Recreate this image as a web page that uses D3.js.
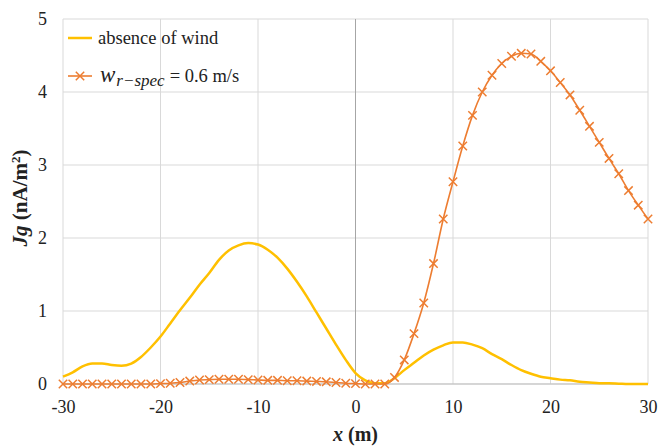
<!DOCTYPE html>
<html><head><meta charset="utf-8">
<script src="https://cdn.jsdelivr.net/npm/d3@7"></script>
<style>body{margin:0;background:#fff}svg{display:block}text{font-family:"Liberation Serif","Times New Roman",serif}</style>
</head><body>
<svg id="c" width="659" height="446"></svg>
<script>
const xs = d3.range(-30, 31); // positions in m
const noWind = [0.10,0.16,0.24,0.28,0.28,0.26,0.25,0.28,0.37,0.50,
  0.65,0.83,1.01,1.18,1.36,1.52,1.70,1.83,1.90,1.93,
  1.91,1.84,1.73,1.58,1.40,1.20,0.98,0.76,0.54,0.33,
  0.15,0.05,0.01,0.01,0.08,0.19,0.29,0.39,0.47,0.53,
  0.57,0.57,0.54,0.49,0.41,0.34,0.26,0.19,0.14,0.10,
  0.08,0.06,0.05,0.03,0.02,0.01,0.01,0.005,0,0,0];
const wind = [0,0,0,0,0,0,0,0,0,0,
  0.005,0.01,0.02,0.04,0.055,0.06,0.065,0.065,0.065,0.06,
  0.055,0.05,0.05,0.045,0.045,0.04,0.035,0.03,0.02,0.01,
  0.005,0,0,0,0.09,0.33,0.69,1.11,1.65,2.26,
  2.77,3.26,3.68,4.00,4.23,4.39,4.49,4.53,4.52,4.42,
  4.29,4.13,3.96,3.75,3.53,3.31,3.09,2.88,2.65,2.45,2.26];
const xTicks = [-30,-20,-10,0,10,20,30];
const yTicks = [0,1,2,3,4,5];
const seriesNames = ["absence of wind", "= 0.6 m/s"];

const svg = d3.select("#c");
const L=63, R=648, T=19, B=384;
const x = d3.scaleLinear().domain([-30,30]).range([L,R]);
const y = d3.scaleLinear().domain([0,5]).range([B,T]);

// grid
const g = svg.append("g");
g.selectAll(".vg").data(xTicks.filter(d=>d!==0)).join("line")
  .attr("x1",d=>x(d)).attr("x2",d=>x(d)).attr("y1",T).attr("y2",B)
  .attr("stroke","#d9d9d9").attr("stroke-width",1);
g.selectAll(".hg").data(yTicks).join("line")
  .attr("x1",L).attr("x2",R).attr("y1",d=>y(d)).attr("y2",d=>y(d))
  .attr("stroke","#d9d9d9").attr("stroke-width",1);
// zero axis
g.append("line").attr("x1",x(0)).attr("x2",x(0)).attr("y1",T).attr("y2",B)
  .attr("stroke","#a6a6a6").attr("stroke-width",1);
g.append("line").attr("x1",L).attr("x2",R).attr("y1",y(0)).attr("y2",y(0))
  .attr("stroke","#bfbfbf").attr("stroke-width",1);

const fmt = d => String(d);
const ax = svg.append("g").attr("transform",`translate(0,${B+11})`)
  .call(d3.axisBottom(x).tickValues(xTicks).tickSize(0).tickPadding(5).tickFormat(fmt));
ax.select(".domain").remove();
ax.selectAll("text").attr("font-size",18).attr("fill","#222").style("font-family","Liberation Serif");
const ay = svg.append("g").attr("transform",`translate(${L-16},0)`)
  .call(d3.axisLeft(y).tickValues(yTicks).tickSize(0).tickPadding(0).tickFormat(fmt));
ay.select(".domain").remove();
ay.selectAll("text").attr("font-size",18).attr("fill","#222").style("font-family","Liberation Serif");

// lines
const yl = d3.line().x((d,i)=>x(xs[i])).y(d=>y(d)).curve(d3.curveMonotoneX);
svg.append("path").datum(noWind).attr("d",yl).attr("fill","none")
  .attr("stroke","#ffc000").attr("stroke-width",2.5);
svg.append("path").datum(wind).attr("d",yl).attr("fill","none")
  .attr("stroke","#ed7d31").attr("stroke-width",1.6);
const m = 4.2;
const mk = svg.append("g").selectAll("g").data(wind).join("g")
  .attr("transform",(d,i)=>`translate(${x(xs[i])},${y(d)})`);
mk.append("path").attr("d",`M${-m},${-m}L${m},${m}M${-m},${m}L${m},${-m}`)
  .attr("stroke","#ed7d31").attr("stroke-width",1.5).attr("fill","none");

// legend
const lg = svg.append("g");
lg.append("line").attr("x1",68).attr("x2",92).attr("y1",38).attr("y2",38)
  .attr("stroke","#ffc000").attr("stroke-width",2.5);
lg.append("text").attr("x",98).attr("y",44).attr("font-size",18.5).attr("fill","#222").text(seriesNames[0]);
lg.append("line").attr("x1",68).attr("x2",92).attr("y1",76).attr("y2",76)
  .attr("stroke","#ed7d31").attr("stroke-width",1.6);
lg.append("path").attr("d",`M${80-m},${76-m}L${80+m},${76+m}M${80-m},${76+m}L${80+m},${76-m}`)
  .attr("stroke","#ed7d31").attr("stroke-width",1.5);
const t2 = lg.append("text").attr("x",100).attr("y",82).attr("font-size",18.5).attr("fill","#222");
t2.append("tspan").attr("font-style","italic").attr("font-size",23).text("w");
t2.append("tspan").attr("font-style","italic").attr("font-size",17).attr("dy",4).attr("dx",1).text("r−spec");
t2.append("tspan").attr("dy",-4).attr("dx",5).text(seriesNames[1]);

// axis titles
const xt = svg.append("text").attr("x",x(0)).attr("y",441).attr("text-anchor","middle")
  .attr("font-size",20).attr("font-weight","bold").attr("fill","#222");
xt.append("tspan").attr("font-style","italic").text("x");
xt.append("tspan").text(" (m)");
const yt = svg.append("text").attr("transform","translate(27,198) rotate(-90)")
  .attr("text-anchor","middle").attr("font-size",21).attr("font-weight","bold").attr("fill","#222");
yt.append("tspan").attr("font-style","italic").text("Jg");
yt.append("tspan").text(" (nA/m");
yt.append("tspan").attr("font-size",13).attr("dy",-7).text("2");
yt.append("tspan").attr("dy",7).text(")");
</script>
</body></html>
